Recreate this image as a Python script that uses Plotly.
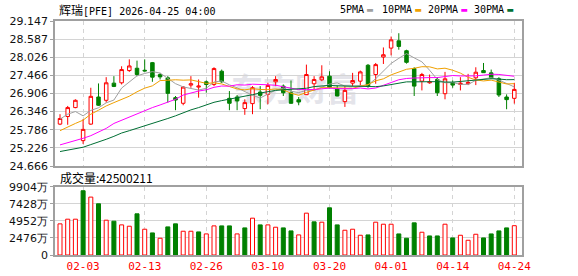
import plotly.graph_objects as go

# ---------------- data ----------------
dates = [
    "2026-01-29", "2026-01-30", "2026-02-02", "2026-02-03", "2026-02-04", "2026-02-05", "2026-02-06",
    "2026-02-09", "2026-02-10", "2026-02-11", "2026-02-12", "2026-02-13",
    "2026-02-17", "2026-02-18", "2026-02-19", "2026-02-20",
    "2026-02-23", "2026-02-24", "2026-02-25", "2026-02-26", "2026-02-27",
    "2026-03-02", "2026-03-03", "2026-03-04", "2026-03-05", "2026-03-06",
    "2026-03-09", "2026-03-10", "2026-03-11", "2026-03-12", "2026-03-13",
    "2026-03-16", "2026-03-17", "2026-03-18", "2026-03-19", "2026-03-20",
    "2026-03-23", "2026-03-24", "2026-03-25", "2026-03-26", "2026-03-27",
    "2026-03-30", "2026-03-31", "2026-04-01", "2026-04-02",
    "2026-04-06", "2026-04-07", "2026-04-08", "2026-04-09", "2026-04-10",
    "2026-04-13", "2026-04-14", "2026-04-15", "2026-04-16", "2026-04-17",
    "2026-04-20", "2026-04-21", "2026-04-22", "2026-04-23", "2026-04-24",
]

opens = [25.961, 26.196, 26.471, 25.450, 25.961, 26.798, 26.696, 27.227, 27.237, 27.615,
         27.687, 27.625, 27.860, 27.490, 27.391, 26.778, 26.604, 27.166, 27.105, 27.268,
         27.186, 27.595, 26.757, 26.798, 26.441, 26.594, 26.951, 26.880, 27.268, 27.135,
         26.931, 26.716, 26.870, 27.207, 27.329, 27.442, 27.054, 26.655, 27.227, 27.288,
         27.779, 27.493, 28.034, 28.310, 28.534, 28.228, 27.676, 27.288, 27.237, 27.340,
         26.900, 27.237, 27.186, 27.207, 27.391, 27.615, 27.544, 27.360, 26.798, 26.757]
highs = [26.267, 26.522, 26.727, 26.114, 27.084, 27.217, 27.411, 27.442, 27.748, 27.962,
         27.922, 27.962, 27.881, 27.544, 27.442, 26.829, 27.135, 27.442, 27.340, 27.309,
         27.717, 27.646, 26.982, 26.859, 26.727, 27.135, 27.135, 27.237, 27.442, 27.186,
         27.309, 26.798, 27.799, 27.442, 27.779, 27.595, 27.156, 27.135, 27.544, 27.615,
         27.819, 27.850, 28.330, 28.667, 28.769, 28.259, 27.717, 27.544, 27.493, 27.411,
         27.574, 27.309, 27.411, 27.513, 27.717, 27.850, 27.646, 27.411, 26.880, 27.237]
lows = [25.930, 25.940, 26.451, 25.348, 25.940, 26.522, 26.625, 27.105, 27.186, 27.574,
        27.442, 27.585, 27.268, 27.340, 26.625, 26.390, 26.543, 27.084, 26.778, 26.931,
        27.135, 27.237, 26.390, 26.390, 26.247, 26.267, 26.420, 26.574, 27.135, 26.829,
        26.590, 26.543, 26.859, 27.033, 27.288, 27.070, 26.820, 26.492, 27.135, 27.135,
        27.084, 27.207, 27.819, 28.085, 28.259, 27.830, 26.829, 27.002, 27.207, 26.829,
        26.727, 27.084, 27.002, 27.166, 27.166, 27.540, 27.370, 26.798, 26.420, 26.594]
closes = [26.134, 26.471, 26.696, 25.797, 26.819, 26.543, 27.237, 27.125, 27.646, 27.758,
          27.493, 27.605, 27.411, 27.420, 26.911, 26.706, 27.105, 27.207, 27.135, 27.186,
          27.677, 27.268, 26.604, 26.676, 26.625, 27.084, 26.849, 27.156, 27.340, 26.931,
          26.604, 26.645, 27.493, 27.340, 27.421, 27.084, 26.829, 27.003, 27.309, 27.574,
          27.135, 27.799, 28.105, 28.565, 28.361, 27.870, 27.135, 27.493, 27.268, 26.931,
          27.360, 27.166, 27.227, 27.248, 27.564, 27.550, 27.391, 26.860, 26.717, 27.033]

# volume in 万 (10,000 shares)
volumes_wan = [4514, 5193, 5193, 9318, 8396, 7426, 5047, 4901, 4368, 4173,
               5970, 3737, 3203, 2427, 4077, 4514, 3446, 3446, 3349, 3058,
               4222, 4222, 4222, 3058, 3931, 5339, 4368, 4368, 4028, 3931,
               3494, 2912, 6067, 4805, 4757, 6843, 4368, 3591, 3737, 2863,
               2912, 4757, 4465, 4465, 3058, 2427, 4659, 3300, 2766, 2766,
               4465, 2475, 2863, 2135, 3009, 2475, 3058, 3494, 3931, 4250.0211]

ma5_head = [26.114, 26.267, 26.349, 26.216]
ma10_head = [25.757, 25.879, 25.981, 26.083, 26.267, 26.390, 26.522, 26.625, 26.716]
ma20_head = [25.318, 25.379, 25.440, 25.522, 25.603, 25.706, 25.828, 25.981, 26.083, 26.185,
             26.287, 26.390, 26.471, 26.553, 26.635, 26.727, 26.859, 26.931, 26.982]
ma30_head = [25.113, 25.154, 25.195, 25.246, 25.328, 25.399, 25.491, 25.583, 25.685, 25.757,
             25.828, 25.910, 25.981, 26.063, 26.134, 26.216, 26.318, 26.400, 26.471, 26.553,
             26.635, 26.686, 26.727, 26.768, 26.819, 26.870, 26.921, 26.962, 27.002]

price_ticks = [24.666, 25.226, 25.786, 26.346, 26.906, 27.466, 28.026, 28.587, 29.147]
vol_max_wan = 9904
date_ticks = ["2026-02-03", "2026-02-13", "2026-02-26", "2026-03-10", "2026-03-20",
              "2026-04-01", "2026-04-14", "2026-04-24"]
title_name = "辉瑞[PFE]"
title_time = "2026-04-25 04:00"
ma_names = ["5PMA", "10PMA", "20PMA", "30PMA"]

# ---------------- derived ----------------
def moving_avg(n, head):
    out = list(head)
    for i in range(len(head), len(closes)):
        out.append(sum(closes[i - n + 1:i + 1]) / n)
    return out

ma_series = [moving_avg(5, ma5_head), moving_avg(10, ma10_head),
             moving_avg(20, ma20_head), moving_avg(30, ma30_head)]

UP = "#ff0000"
DOWN = "#008000"
ma_colors = ["#a0a0a0", "#f0a000", "#ff00ff", "#006f34"]

vol_up = []
for i, c in enumerate(closes):
    prev = closes[i - 1] if i > 0 else opens[0]
    vol_up.append(c >= prev)
bar_fill = ["#ffffff" if u else DOWN for u in vol_up]
bar_line = [UP if u else DOWN for u in vol_up]
volumes = [v * 10000 for v in volumes_wan]

# ---------------- layout geometry (pixels) ----------------
W, H = 578, 276
ML, MR, MT, MB = 55, 56, 21, 21
PW, PH = W - ML - MR, H - MT - MB

def px(x):
    return (x - ML) / PW

def py(y):
    return (H - MB - y) / PH

fig = go.Figure()

fig.add_trace(go.Candlestick(
    x=dates, open=opens, high=highs, low=lows, close=closes,
    increasing=dict(line=dict(color=UP, width=1), fillcolor="#ffffff"),
    decreasing=dict(line=dict(color=DOWN, width=1), fillcolor=DOWN),
    xaxis="x", yaxis="y", showlegend=False, hoverinfo="skip",
))
for name, series, col in zip(ma_names, ma_series, ma_colors):
    fig.add_trace(go.Scatter(
        x=dates, y=series, mode="lines", name=name,
        line=dict(color=col, width=1), xaxis="x", yaxis="y",
        showlegend=False, hoverinfo="skip",
    ))
fig.add_trace(go.Bar(
    x=dates, y=volumes, width=0.52,
    marker=dict(color=bar_fill, line=dict(color=bar_line, width=1)),
    xaxis="x2", yaxis="y2", showlegend=False, hoverinfo="skip",
))

GRID = "#d4d4d4"
BORDER = "#a0a0a0"
TICKFONT = dict(family="DejaVu Sans", size=11, color="#111111")
x_common = dict(
    type="category", range=[-0.65, len(dates) - 0.0],
    tickvals=date_ticks, ticktext=[d[5:] for d in date_ticks],
    showgrid=True, gridcolor=GRID, griddash="4px,4px", gridwidth=1,
    showline=True, linecolor=BORDER, linewidth=1.5, mirror=True,
    zeroline=False, fixedrange=True, automargin=False, ticks="",
)
y_common = dict(
    tickfont=TICKFONT, ticks="outside", ticklen=3, tickcolor=BORDER,
    showgrid=True, gridcolor=GRID, gridwidth=1,
    showline=True, linecolor=BORDER, linewidth=1.5, mirror=True,
    zeroline=False, fixedrange=True, automargin=False,
)

fig.update_layout(
    width=W, height=H,
    margin=dict(l=ML, r=MR, t=MT, b=MB, pad=0, autoexpand=False),
    paper_bgcolor="#ffffff", plot_bgcolor="#ffffff",
    boxgap=0.35, bargap=0.3,
    xaxis=dict(**x_common, anchor="y", showticklabels=False,
               rangeslider=dict(visible=False)),
    xaxis2=dict(**x_common, anchor="y2", matches="x", showticklabels=True,
                tickfont=dict(family="DejaVu Sans Mono", size=11, color="#ff0000")),
    yaxis=dict(**y_common, domain=[py(166), 1.0], range=[price_ticks[0], price_ticks[-1]],
               tickvals=price_ticks, ticktext=[f"{t:.3f}" for t in price_ticks]),
    yaxis2=dict(**y_common, domain=[0, py(186.7)], range=[0, vol_max_wan * 10000],
                tickvals=[vol_max_wan * 10000 * k / 4 for k in range(5)],
                ticktext=["0"] + [f"{round(vol_max_wan * k / 4)}万" for k in range(1, 5)]),
)

annotations = [
    dict(x=px(57), y=py(10), xref="paper", yref="paper", xanchor="left", yanchor="middle",
         showarrow=False,
         text=f'<span style="font-family:Noto Sans CJK SC;font-size:12px">{title_name[:2]}</span>'
              f'{title_name[2:]} {title_time}',
         font=dict(family="DejaVu Sans Mono", size=10, color="#000000")),
    dict(x=px(58), y=py(177), xref="paper", yref="paper", xanchor="left", yanchor="middle",
         showarrow=False,
         text=f"成交量:{round(volumes_wan[-1] * 10000)}",
         font=dict(family="Noto Sans CJK SC", size=12, color="#000000")),
]
legend_left = [338, 380, 426, 472]
for name, col, lx in zip(ma_names, ma_colors, legend_left):
    annotations.append(dict(
        x=px(lx), y=py(10), xref="paper", yref="paper", xanchor="left", yanchor="middle",
        showarrow=False,
        text=f'{name}<span style="font-size:5px"> </span><span style="color:{col}">▬</span>',
        font=dict(family="DejaVu Sans Mono", size=10, color="#000000")))
fig.update_layout(annotations=annotations)

# faint watermark behind the candles
fig.add_shape(type="rect", xref="paper", yref="paper",
              x0=px(208), x1=px(382), y0=py(110), y1=py(74),
              line=dict(width=0), fillcolor="rgba(0,0,0,0)", layer="below",
              label=dict(text="东方财富", textposition="middle center",
                         font=dict(family="Noto Sans CJK SC", size=32, color="#e4e4ea",
                                   weight="bold")))

fig.write_html("out.html")
